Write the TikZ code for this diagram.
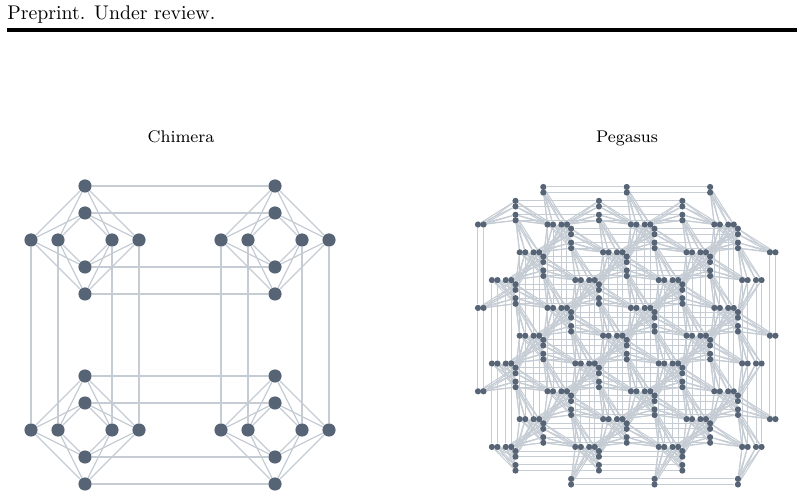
\documentclass[tikz,border=0pt]{standalone}
\usetikzlibrary{backgrounds}
\definecolor{nodeslate}{RGB}{86,100,118}
\definecolor{edgegray}{RGB}{197,204,212}
\tikzset{
  cnode/.style={circle,fill=nodeslate,inner sep=0pt,minimum size=6.6pt},
  pnode/.style={circle,fill=nodeslate,inner sep=0pt,minimum size=3.1pt},
  cline/.style={edgegray,line width=0.6pt},
  pline/.style={edgegray,line width=0.5pt},
  title/.style={anchor=base,font=\fontsize{8.45}{10}\selectfont},
}
% pegasus offsets, vertical and horizontal
\def\voffs{{2,2,2,2,10,10,10,10,6,6,6,6}}
\def\hoffs{{6,6,6,6,2,2,2,2,10,10,10,10}}
% coupler only if both qubits are in the fabric
\newcommand\pedge[2]{\ifcsname pgf@sh@ns@#1\endcsname\ifcsname pgf@sh@ns@#2\endcsname
  \draw[pline] (#1) -- (#2);\fi\fi}
\begin{document}
\begin{tikzpicture}[x=0.5pt,y=-0.5pt]
  \useasboundingbox (0,0) rectangle (804,497);
  \node[anchor=base west,font=\fontsize{9.9}{12}\selectfont,inner sep=0pt] (header) at (7,19.5) {Preprint. Under review.};
  \draw[line width=1.6pt] (7,30) -- (797,30);
  \node[title] (chimera) at (181,143) {Chimera};
  \node[title] (pegasus) at (627,143) {Pegasus};
  % Chimera, 2x2 cells
  \foreach \i in {0,1} \foreach \j in {0,1} {
    \foreach \n/\d in {0/-54,1/-27,2/27,3/54} {
      \node[cnode] (c\i\j-v\n) at ({85+190*\j+\d},{240+190*\i}) {};
      \node[cnode] (c\i\j-h\n) at ({85+190*\j},{240+190*\i+\d}) {};
    }
  }
  \begin{pgfonlayer}{background}
    \foreach \i in {0,1} \foreach \j in {0,1} \foreach \a in {0,...,3} {
      \foreach \b in {0,...,3} { \draw[cline] (c\i\j-v\a) -- (c\i\j-h\b); }
    }
    \foreach \i in {0,1} \foreach \a in {0,...,3} {
      \draw[cline] (c0\i-v\a) -- (c1\i-v\a);
      \draw[cline] (c\i0-h\a) -- (c\i1-h\a);
    }
  \end{pgfonlayer}
  % Pegasus, m = 4
  \begin{scope}[shift={(463.4,172.4)},x=3.475pt,y=-3.475pt]
    \foreach \w in {0,...,3} \foreach \k in {0,...,11} {
      \pgfmathtruncatemacro\ok{(\w>0 || \k>1) && (\w<3 || \k<10)}
      \pgfmathsetmacro\p{0.1-0.2*mod(\k,2)}
      \ifnum\ok=1
        \foreach \z in {0,1,2} {
          \node[pnode] (q0-\w-\k-\z) at ({12*\w+\k+\p},{12*\z+\voffs[\k]+5.5}) {};
          \node[pnode] (q1-\w-\k-\z) at ({12*\z+\hoffs[\k]+5.5},{12*\w+\k+\p}) {};
        }
      \fi
    }
  \end{scope}
  \begin{pgfonlayer}{background}
    \foreach \u in {0,1} \foreach \w in {0,...,3} \foreach \k in {0,...,11} {
      \pgfmathtruncatemacro\kn{\k+1}
      \foreach \z/\zn in {0/1,1/2} { \pedge{q\u-\w-\k-\z}{q\u-\w-\k-\zn} }
      \ifodd\k\relax\else
        \foreach \z in {0,1,2} { \pedge{q\u-\w-\k-\z}{q\u-\w-\kn-\z} }
      \fi
    }
    \foreach \w in {0,...,3} \foreach \k in {0,...,11} \foreach \kk in {0,...,11} {
      \pgfmathtruncatemacro\zz{\w-(\k<\hoffs[\kk])}
      \foreach \z in {0,1,2} {
        \pgfmathtruncatemacro\ww{\z+(\kk<\voffs[\k])}
        \pedge{q0-\w-\k-\z}{q1-\ww-\kk-\zz}
      }
    }
  \end{pgfonlayer}
\end{tikzpicture}
\end{document}
